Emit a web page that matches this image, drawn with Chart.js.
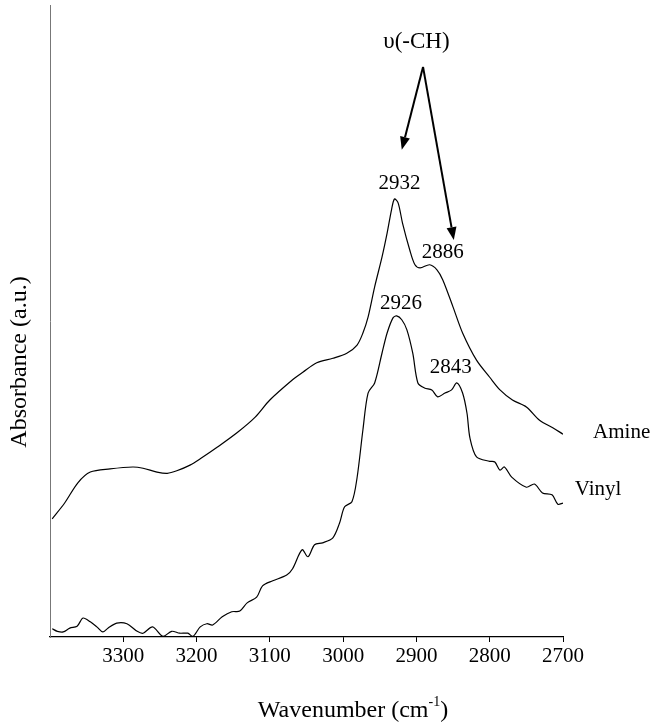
<!DOCTYPE html>
<html>
<head>
<meta charset="utf-8">
<script src="https://cdn.jsdelivr.net/npm/chart.js@4.4.1/dist/chart.umd.min.js"></script>
<style>
html, body { margin: 0; padding: 0; background: #fff; }
</style>
</head>
<body>
<canvas id="myChart" width="652" height="727"></canvas>
<script>
// wavenumber (cm-1) and absorbance (a.u.)
var amineWn = [3397, 3380, 3362, 3345, 3318, 3287, 3273, 3254, 3240, 3227, 3209, 3195, 3171, 3144, 3120,
	3100, 3069, 3055, 3036, 3014, 2995, 2981, 2973, 2966, 2957, 2947, 2940, 2934, 2930, 2925, 2919,
	2909, 2902, 2895, 2882, 2872, 2864, 2850, 2837, 2818, 2800, 2786, 2769, 2750, 2732, 2714, 2700];
var amineAbs = [18.7, 21.2, 24.4, 26.1, 26.6, 26.9, 26.7, 26.1, 25.9, 26.3, 27.2, 28.2, 30.1, 32.4, 34.8,
	37.5, 40.7, 41.9, 43.4, 44.1, 44.9, 46.2, 48.1, 50.6, 55.4, 60.1, 63.9, 67.6, 69.3, 68.7, 65.5,
	61.2, 58.9, 58.4, 58.9, 58.1, 56.5, 52.2, 48.1, 43.8, 41.1, 39.1, 37.5, 36.4, 34.3, 33.1, 32.1];

var vinylWn = [3397, 3390, 3382, 3373, 3363, 3355, 3345, 3336, 3328, 3321, 3309, 3295, 3281, 3273, 3260,
	3246, 3234, 3223, 3212, 3205, 3195, 3186, 3178, 3165, 3152, 3141, 3131, 3118, 3110, 3096, 3077,
	3069, 3056, 3048, 3039, 3028, 3014, 3005, 2998, 2988, 2981, 2973, 2966, 2957, 2947, 2940, 2932,
	2927, 2920, 2913, 2905, 2898, 2889, 2879, 2871, 2861, 2852, 2845, 2837, 2831, 2827, 2818, 2800,
	2793, 2786, 2780, 2770, 2750, 2739, 2728, 2715, 2707, 2700];
var vinylAbs = [1.3, 0.9, 0.8, 1.4, 1.7, 3.0, 2.4, 1.6, 0.8, 1.4, 2.2, 2.1, 0.9, 0.6, 1.6,
	0.1, 0.9, 0.6, 0.6, 0.1, 1.6, 2.1, 1.9, 3.2, 4.0, 4.1, 5.4, 6.3, 8.1, 8.9, 9.8,
	10.8, 13.8, 12.7, 14.6, 14.9, 15.7, 18.0, 20.6, 21.4, 25.2, 32.8, 38.6, 40.2, 44.9, 48.1, 50.5,
	50.8, 50.2, 48.6, 44.9, 40.2, 39.4, 39.1, 38.0, 38.6, 39.1, 40.2, 38.6, 35.4, 31.5, 28.5, 27.8,
	27.7, 26.4, 26.9, 25.3, 23.7, 24.2, 22.8, 22.5, 21.0, 21.2];

var seriesNames = ["Amine", "Vinyl"];
var tickLabels = [3300, 3200, 3100, 3000, 2900, 2800, 2700];

// peak labels, placed in data units (wavenumber, absorbance)
var peakText = ["2932", "2886", "2926", "2843"];
var peakWn = [2923, 2864, 2921, 2853];
var peakAbs = [71.8, 60.9, 52.8, 42.6];

var FONT = "'Liberation Serif', 'DejaVu Serif', serif";

function toPoints(xs, ys) {
	return xs.map(function (x, i) { return { x: x, y: ys[i] }; });
}

function arrow(ctx, x1, y1, x2, y2) {
	var a = Math.atan2(y2 - y1, x2 - x1);
	var len = 13, w = 5;
	var bx = x2 - len * Math.cos(a), by = y2 - len * Math.sin(a);
	ctx.beginPath();
	ctx.moveTo(x1, y1);
	ctx.lineTo(bx, by);
	ctx.stroke();
	ctx.beginPath();
	ctx.moveTo(x2, y2);
	ctx.lineTo(bx + w * Math.sin(a), by - w * Math.cos(a));
	ctx.lineTo(bx - w * Math.sin(a), by + w * Math.cos(a));
	ctx.closePath();
	ctx.fill();
}

var notes = {
	id: "notes",
	afterDraw: function (chart) {
		var ctx = chart.ctx, sx = chart.scales.x, sy = chart.scales.y;
		ctx.save();
		ctx.fillStyle = "#000";
		ctx.strokeStyle = "#000";
		ctx.font = "21px " + FONT;
		ctx.textBaseline = "middle";
		ctx.textAlign = "center";
		for (var i = 0; i < peakText.length; i++) {
			ctx.fillText(peakText[i], sx.getPixelForValue(peakWn[i]), sy.getPixelForValue(peakAbs[i]));
		}
		ctx.font = "23px " + FONT;
		ctx.fillText("\u03c5(-CH)", sx.getPixelForValue(2900), sy.getPixelForValue(94.2));

		// series names at the right end of each trace
		ctx.font = "21px " + FONT;
		ctx.textAlign = "left";
		ctx.fillText(seriesNames[0], sx.getPixelForValue(2659), sy.getPixelForValue(32.4));
		ctx.fillText(seriesNames[1], sx.getPixelForValue(2684), sy.getPixelForValue(23.3));

		// arrows from the v(-CH) label to the two peaks
		ctx.lineWidth = 2;
		var ax = sx.getPixelForValue(2891), ay = sy.getPixelForValue(90.2);
		arrow(ctx, ax, ay, sx.getPixelForValue(2920), sy.getPixelForValue(77.1));
		arrow(ctx, ax, ay, sx.getPixelForValue(2849), sy.getPixelForValue(62.8));

		// axis titles
		ctx.textAlign = "center";
		ctx.font = "24px " + FONT;
		ctx.save();
		ctx.translate(20, 362);
		ctx.rotate(-Math.PI / 2);
		ctx.fillText("Absorbance (a.u.)", 0, 0);
		ctx.restore();

		var main = "Wavenumber (cm", sup = "-1", end = ")";
		ctx.font = "24px " + FONT;
		var w1 = ctx.measureText(main).width, w3 = ctx.measureText(end).width;
		ctx.font = "14px " + FONT;
		var w2 = ctx.measureText(sup).width;
		var left = 353 - (w1 + w2 + w3) / 2, ty = 711;
		ctx.textAlign = "left";
		ctx.font = "24px " + FONT;
		ctx.fillText(main, left, ty);
		ctx.fillText(end, left + w1 + w2, ty);
		ctx.font = "14px " + FONT;
		ctx.fillText(sup, left + w1, ty - 9);
		ctx.restore();
	}
};

var ctx = document.getElementById("myChart");
var chart = new Chart(ctx, {
	type: "line",
	data: {
		datasets: [{
			label: seriesNames[0],
			data: toPoints(amineWn, amineAbs),
			borderColor: "#000",
			borderWidth: 1.2,
			pointRadius: 0,
			tension: 0.3,
			fill: false
		}, {
			label: seriesNames[1],
			data: toPoints(vinylWn, vinylAbs),
			borderColor: "#000",
			borderWidth: 1.2,
			pointRadius: 0,
			tension: 0.3,
			fill: false
		}]
	},
	options: {
		responsive: false,
		animation: false,
		layout: { padding: { top: 5, right: 89, left: 0, bottom: 0 } },
		plugins: {
			legend: { display: false },
			tooltip: { enabled: false }
		},
		scales: {
			x: {
				type: "linear",
				reverse: true,
				min: 2700,
				max: 3400,
				afterFit: function (s) { s.height = 90; },
				afterBuildTicks: function (s) {
					s.ticks = tickLabels.map(function (v) { return { value: v }; });
				},
				ticks: {
					font: { family: FONT, size: 21 },
					color: "#000",
					padding: 2,
					maxRotation: 0,
					callback: function (v) { return v; }
				},
				grid: { display: true, drawOnChartArea: false, drawTicks: true, tickLength: 5, color: "#000" },
				border: { display: true, color: "#000", width: 1.2 }
			},
			y: {
				min: 0,
				max: 100,
				afterFit: function (s) { s.width = 50; },
				ticks: { display: false },
				grid: { display: false },
				border: { display: true, color: "#777", width: 1 }
			}
		}
	},
	plugins: [notes]
});
</script>
</body>
</html>
